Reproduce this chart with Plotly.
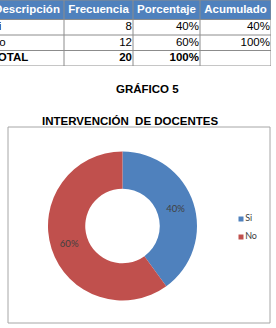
import plotly.graph_objects as go

# ---- data ----
categories = ["Si", "No"]
frecuencia = [8, 12]
porcentaje = [40, 60]
acumulado = [40, 100]
total_label = "TOTAL"
total_frec = 20
total_pct = 100
header = ["Descripción", "Frecuencia", "Porcentaje", "Acumulado"]
chart_number = "GRÁFICO 5"
chart_title = "INTERVENCIÓN\u00a0 DE DOCENTES"
colors = ["#4F81BD", "#C0504D"]

# ---- layout constants (pixels) ----
W, H = 286, 328
SHIFT = 10  # figure shifted left so the table's left edge is cropped like the reference
col_widths = [74, 69, 67, 71]
row_heights = [19.5, 15.5, 15.5, 15.5]
TABLE_FONT = "Liberation Sans, Arial"


def px(x):
    return x / W


def py(y):
    return 1 - y / H


def b(s):
    return f"<b>{s}</b>"


col_edges = [0]
for w in col_widths:
    col_edges.append(col_edges[-1] + w)
row_edges = [0]
for h in row_heights:
    row_edges.append(row_edges[-1] + h)
TW, TH = col_edges[-1], row_edges[-1]

body = [
    categories + [b(total_label)],
    [str(v) for v in frecuencia] + [b(total_frec)],
    [f"{v}%" for v in porcentaje] + [b(f"{total_pct}%")],
    [f"{v}%" for v in acumulado] + [""],
]

fig = go.Figure()

# header fill
fig.add_trace(go.Scatter(
    x=[0, TW, TW, 0, 0], y=[0, 0, row_edges[1], row_edges[1], 0],
    mode="lines", fill="toself", fillcolor="#4F81BD",
    line=dict(width=0), hoverinfo="skip", showlegend=False,
    xaxis="x", yaxis="y",
))

# grid lines
gx, gy = [], []
for r in row_edges:
    gx += [0, TW, None]
    gy += [r, r, None]
for c in col_edges:
    gx += [c, c, None]
    gy += [0, TH, None]
fig.add_trace(go.Scatter(
    x=gx, y=gy, mode="lines", line=dict(color="#8C8C8C", width=1),
    hoverinfo="skip", showlegend=False, cliponaxis=False,
    xaxis="x", yaxis="y",
))

# header text
fig.add_trace(go.Scatter(
    x=[(col_edges[i] + col_edges[i + 1]) / 2 for i in range(4)],
    y=[row_edges[1] / 2 + 0.5] * 4,
    mode="text", text=[b(h) for h in header], textposition="middle center",
    textfont=dict(family=TABLE_FONT, size=11.5, color="white"),
    hoverinfo="skip", showlegend=False, cliponaxis=False,
    xaxis="x", yaxis="y",
))

# body text
tx, ty, tt, tp = [], [], [], []
for ci, col in enumerate(body):
    for ri, val in enumerate(col):
        yc = (row_edges[ri + 1] + row_edges[ri + 2]) / 2
        if ci == 0:
            tx.append(col_edges[0] + 1)
            tp.append("middle right")
        else:
            tx.append(col_edges[ci + 1] - 1)
            tp.append("middle left")
        ty.append(yc)
        tt.append(val)
fig.add_trace(go.Scatter(
    x=tx, y=ty, mode="text", text=tt, textposition=tp,
    textfont=dict(family=TABLE_FONT, size=11.5, color="black"),
    hoverinfo="skip", showlegend=False, cliponaxis=False,
    xaxis="x", yaxis="y",
))

# donut
fig.add_trace(go.Pie(
    labels=categories,
    values=frecuencia,
    hole=0.5,
    sort=False,
    direction="clockwise",
    rotation=0,
    marker=dict(colors=colors, line=dict(width=0)),
    textinfo="percent",
    textposition="inside",
    insidetextorientation="horizontal",
    textfont=dict(family="Lato, Liberation Sans", size=9.5, color="#404040"),
    domain=dict(x=[px(58), px(207)], y=[py(300.5), py(151.5)]),
    showlegend=False,
    hoverinfo="label+percent",
))

# legend (markers + labels)
fig.add_trace(go.Scatter(
    x=[0] * len(categories), y=list(range(len(categories))),
    mode="markers+text", text=categories, textposition="middle right",
    marker=dict(symbol="square", size=5, color=colors),
    textfont=dict(family="Lato, Liberation Sans", size=9, color="#404040"),
    hoverinfo="skip", showlegend=False, cliponaxis=False,
    xaxis="x2", yaxis="y2",
))

fig.add_shape(type="rect", xref="paper", yref="paper",
              x0=px(18), x1=px(280), y0=py(323), y1=py(127),
              line=dict(color="#A6A6A6", width=1), fillcolor="rgba(0,0,0,0)",
              layer="below")

fig.add_annotation(text=b(chart_number), xref="paper", yref="paper",
                   x=px(158), y=py(89), xanchor="center", yanchor="middle",
                   showarrow=False,
                   font=dict(family=TABLE_FONT, size=11.5, color="black"))
fig.add_annotation(text=b(chart_title), xref="paper", yref="paper",
                   x=px(140), y=py(121), xanchor="center", yanchor="middle",
                   showarrow=False,
                   font=dict(family=TABLE_FONT, size=11.5, color="black"))

fig.update_layout(
    width=W, height=H,
    margin=dict(l=0, r=0, t=0, b=0),
    paper_bgcolor="white", plot_bgcolor="rgba(0,0,0,0)",
    showlegend=False,
    xaxis=dict(visible=False, range=[0, TW], domain=[0, px(TW)], fixedrange=True),
    yaxis=dict(visible=False, range=[TH, 0], domain=[py(TH), 1], fixedrange=True),
    xaxis2=dict(visible=False, range=[-1, 3], domain=[px(249), px(257)],
                fixedrange=True, anchor="y2"),
    yaxis2=dict(visible=False, range=[1.5, -0.5], domain=[py(246), py(210)],
                fixedrange=True, anchor="x2"),
)

fig.write_html(
    "out.html",
    config={"displayModeBar": False},
    post_script="document.getElementById('{plot_id}').style.marginLeft='-%dpx';" % SHIFT,
)
